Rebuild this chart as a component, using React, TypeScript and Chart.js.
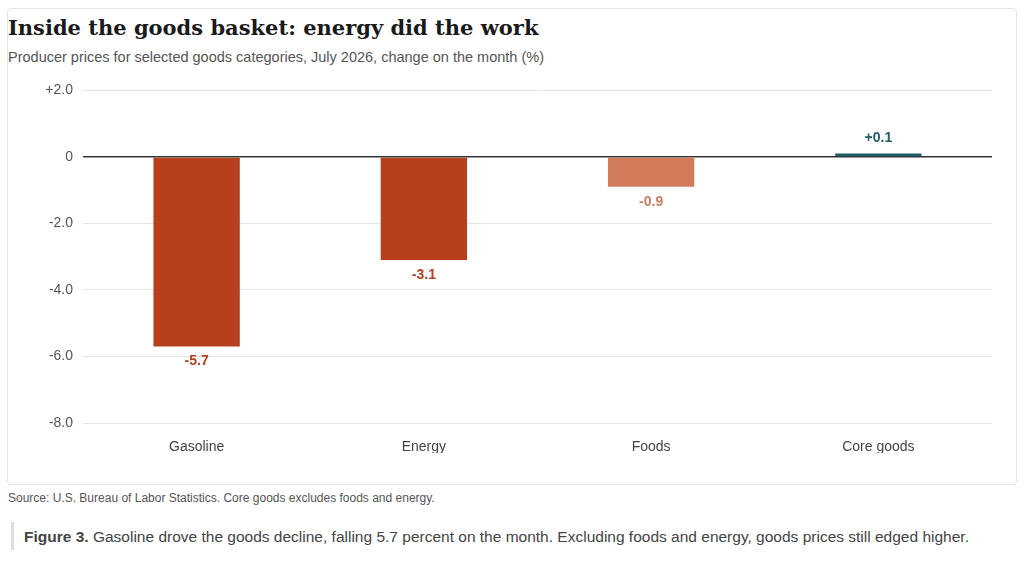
import React, { useEffect, useRef } from "react";
import { Chart, registerables } from "chart.js";
Chart.register(...registerables);

const categories = ["Gasoline", "Energy", "Foods", "Core goods"];
const values = [-5.7, -3.1, -0.9, 0.1];
const barColors = ["#b5401b", "#b5401b", "#d27b5a", "#1e5d68"];
const yTicks = [2, 0, -2, -4, -6, -8];

const fmt = (v: number) => (v > 0 ? "+" : "") + v.toFixed(1);

const labelPlugin = {
  id: "barLabels",
  afterDatasetsDraw(chart: any) {
    const ctx = chart.ctx;
    const meta = chart.getDatasetMeta(0);
    ctx.save();
    ctx.font = "bold 14px 'Liberation Sans', Arial, sans-serif";
    ctx.textAlign = "center";
    meta.data.forEach((bar: any, i: number) => {
      const v = values[i];
      ctx.fillStyle = barColors[i];
      if (v < 0) {
        ctx.textBaseline = "top";
        ctx.fillText(fmt(v), bar.x, bar.y + 8);
      } else {
        ctx.textBaseline = "bottom";
        ctx.fillText(fmt(v), bar.x, bar.y - 8);
      }
    });
    ctx.restore();
  },
};

export default function App() {
  const ref = useRef<HTMLCanvasElement>(null);
  useEffect(() => {
    const chart = new Chart(ref.current!, {
      type: "bar",
      data: {
        labels: categories,
        datasets: [{ data: values, backgroundColor: barColors, barPercentage: 0.38, categoryPercentage: 1 }],
      },
      options: {
        animation: false,
        responsive: false,
        layout: { padding: { top: 13, right: 16, left: 0, bottom: 0 } },
        plugins: { legend: { display: false }, tooltip: { enabled: false } },
        scales: {
          x: {
            grid: { display: false },
            border: { display: false },
            ticks: { color: "#444", font: { size: 14, family: "'Liberation Sans', Arial, sans-serif" }, padding: 8 },
            afterFit: (s: any) => { s.height = 30; },
          },
          y: {
            min: -8,
            max: 2,
            afterBuildTicks: (s: any) => { s.ticks = yTicks.map((v) => ({ value: v })); },
            ticks: {
              color: "#555",
              font: { size: 14, family: "'Liberation Sans', Arial, sans-serif" },
              padding: 10,
              callback: (v: any) => (v === 0 ? "0" : (v > 0 ? "+" : "") + Number(v).toFixed(1)),
            },
            border: { display: false },
            grid: {
              drawTicks: false,
              color: (c: any) => (c.tick && c.tick.value === 0 ? "#333" : "#e3e3e3"),
              lineWidth: (c: any) => (c.tick && c.tick.value === 0 ? 1.5 : 1),
            },
            afterFit: (s: any) => { s.width = 75; },
          },
        },
      },
      plugins: [labelPlugin],
    });
    return () => chart.destroy();
  }, []);

  const sans = "'Liberation Sans', Arial, sans-serif";
  return (
    <div>
      <div style={{ position: "absolute", left: 7, top: 8, width: 1010, height: 477, border: "1px solid #e4e4e4", borderRadius: 4, boxSizing: "border-box" }} />
      <div style={{ position: "absolute", left: 8, top: 15, fontFamily: "'DejaVu Serif', 'Liberation Serif', serif", fontWeight: "bold", fontSize: 21, color: "#1a1a1a", whiteSpace: "nowrap" }}>
        Inside the goods basket: energy did the work
      </div>
      <div style={{ position: "absolute", left: 8, top: 49, fontFamily: sans, fontSize: 14.5, color: "#555", whiteSpace: "nowrap" }}>
        Producer prices for selected goods categories, July 2026, change on the month (%)
      </div>
      <canvas ref={ref} width={1000} height={381} style={{ position: "absolute", left: 8, top: 72, width: 1000, height: 381 }} />
      <div style={{ position: "absolute", left: 8, top: 491, fontFamily: sans, fontSize: 12, color: "#555", whiteSpace: "nowrap" }}>
        Source: U.S. Bureau of Labor Statistics. Core goods excludes foods and energy.
      </div>
      <div style={{ position: "absolute", left: 11, top: 522, height: 28, borderLeft: "3px solid #ddd" }} />
      <div style={{ position: "absolute", left: 24, top: 528, fontFamily: sans, fontSize: 15.5, color: "#444", whiteSpace: "nowrap" }}>
        <b>Figure 3.</b> Gasoline drove the goods decline, falling 5.7 percent on the month. Excluding foods and energy, goods prices still edged higher.
      </div>
    </div>
  );
}
